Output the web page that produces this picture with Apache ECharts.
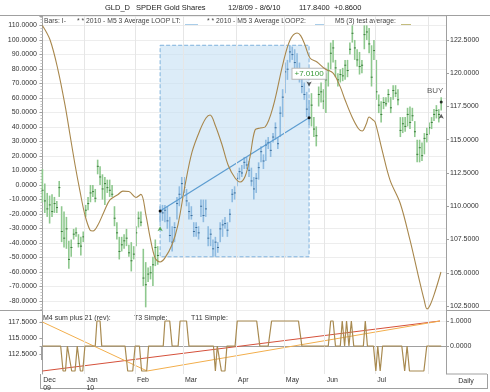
<!DOCTYPE html>
<html>
<head>
<meta charset="utf-8">
<script src="https://cdn.jsdelivr.net/npm/echarts@6/dist/echarts.min.js"></script>
<style>
  html, body { margin: 0; padding: 0; background: #fff; }
  #chart { width: 490px; height: 392px; }
</style>
</head>
<body>
<div id="chart"></div>
<script>
// month boundaries (bar index of first trading day shown in that month)
var monthStarts = [0, 18, 39, 59, 81, 101, 118, 139, 161]
var monthNames = ['Dec', 'Jan', 'Feb', 'Mar', 'Apr', 'May', 'Jun', 'Jul', '']
var yearNames = ['09', '10', '', '', '', '', '', '', '']

// GLD daily bars, 12/8/09 - 8/6/10
var barHigh = [
  112.8, 111.7, 111.0, 110.8, 110.9, 110.7, 110.4, 111.9, 110.0, 109.6,
  109.2, 107.4, 107.5, 108.3, 108.4, 107.9, 107.7, 108.1, 110.1, 110.7,
  111.6, 111.6, 111.3, 113.5, 113.0, 112.4, 112.2, 112.0, 112.0, 111.6,
  110.0, 108.8, 107.7, 107.7, 107.9, 108.3, 107.1, 107.3, 107.0, 108.5,
  109.6, 109.6, 106.8, 105.8, 105.4, 105.5, 106.2, 107.5, 107.0, 110.0,
  110.1, 110.1, 110.0, 109.2, 108.5, 108.8, 110.7, 111.5, 112.2, 112.2,
  111.3, 110.3, 110.0, 108.8, 108.8, 108.5, 110.5, 110.5, 110.5, 108.5,
  108.3, 107.5, 107.7, 107.3, 108.8, 109.0, 109.2, 108.8, 109.8, 111.3,
  111.5, 112.5, 112.9, 113.1, 113.7, 113.7, 113.4, 112.9, 112.2, 112.5,
  113.3, 114.5, 113.9, 115.0, 115.2, 114.8, 115.5, 116.3, 115.2, 117.5,
  118.8, 120.8, 121.0, 122.1, 122.0, 121.8, 121.5, 120.8, 119.7, 119.3,
  118.6, 118.0, 118.5, 116.7, 116.0, 119.0, 119.3, 118.8, 120.0, 120.8,
  122.3, 122.5, 121.0, 120.0, 120.3, 120.4, 121.0, 121.0, 122.3, 123.6,
  122.5, 121.8, 121.6, 121.0, 123.6, 123.6, 123.4, 122.1, 122.5, 121.0,
  118.4, 117.9, 118.2, 118.2, 118.8, 118.2, 119.1, 119.1, 118.8, 116.7,
  116.7, 116.7, 117.4, 117.5, 117.4, 116.4, 115.0, 115.0, 114.8, 115.5,
  115.9, 116.3, 116.7, 117.3, 117.6, 117.3, 118.2
]
var barLow = [
  110.3, 109.5, 109.2, 108.7, 109.2, 109.5, 109.5, 110.7, 107.3, 106.9,
  106.8, 105.3, 106.2, 107.5, 107.7, 106.9, 106.3, 107.3, 109.2, 109.7,
  110.3, 110.7, 110.3, 112.4, 111.6, 110.5, 110.1, 111.0, 110.7, 110.7,
  108.5, 107.5, 106.0, 106.6, 106.8, 107.0, 106.2, 105.1, 106.0, 107.0,
  108.4, 108.5, 104.0, 102.4, 104.3, 104.5, 104.0, 105.5, 105.6, 108.8,
  108.9, 108.8, 108.3, 107.3, 106.6, 107.3, 109.0, 110.0, 110.7, 111.0,
  110.0, 109.0, 109.0, 107.7, 107.7, 107.5, 109.2, 108.8, 109.2, 107.0,
  107.0, 106.2, 106.2, 106.5, 107.3, 107.7, 108.3, 107.7, 108.8, 110.3,
  110.5, 111.5, 112.0, 112.2, 112.8, 112.8, 112.2, 111.5, 110.5, 111.0,
  112.0, 113.3, 112.8, 113.4, 114.3, 113.7, 114.8, 115.0, 114.3, 115.2,
  116.7, 118.5, 119.5, 120.8, 121.0, 120.3, 119.7, 119.3, 118.5, 118.0,
  116.7, 116.1, 116.0, 115.2, 114.5, 117.5, 117.8, 117.3, 117.0, 119.0,
  120.3, 120.8, 119.7, 119.0, 119.3, 119.4, 119.5, 119.7, 121.4, 122.3,
  121.0, 120.5, 119.9, 120.0, 121.8, 122.5, 121.5, 119.0, 121.0, 118.0,
  117.0, 116.3, 117.3, 117.5, 117.8, 117.0, 118.0, 118.2, 117.6, 115.2,
  115.5, 115.6, 116.0, 115.8, 116.4, 115.2, 113.3, 113.3, 113.4, 113.9,
  114.8, 115.4, 115.8, 116.4, 116.6, 116.3, 117.2
]
var barClose = [
  111.2, 110.4, 109.8, 110.1, 109.6, 110.2, 109.9, 111.4, 108.1, 107.6,
  108.3, 106.0, 106.9, 107.9, 108.0, 107.2, 107.0, 107.7, 109.7, 110.2,
  111.0, 111.1, 110.6, 113.0, 112.2, 111.3, 111.7, 111.4, 111.2, 110.9,
  109.1, 108.0, 106.6, 107.1, 107.4, 107.6, 106.5, 105.9, 106.4, 108.0,
  109.1, 108.8, 104.6, 104.1, 104.9, 105.0, 105.6, 106.9, 106.3, 109.64,
  109.5, 109.7, 108.9, 107.8, 107.3, 108.4, 110.2, 110.9, 111.7, 111.4,
  110.4, 109.6, 109.3, 108.1, 108.4, 108.0, 110.0, 109.3, 109.8, 107.6,
  107.9, 106.8, 107.3, 106.9, 108.3, 108.6, 108.7, 108.2, 109.4, 110.9,
  111.0, 112.1, 112.6, 112.5, 113.3, 113.1, 112.7, 111.9, 111.3, 112.1,
  112.9, 114.1, 113.4, 114.6, 114.8, 114.2, 115.2, 115.9, 114.7, 117.0,
  118.2, 120.1, 120.3, 121.6, 121.4, 120.8, 120.1, 119.8, 119.0, 118.4,
  117.3, 116.65, 117.6, 115.8, 115.3, 118.4, 118.6, 117.9, 119.5, 120.2,
  121.5, 121.9, 120.4, 119.5, 119.9, 119.8, 120.6, 120.2, 121.8, 123.0,
  121.9, 121.0, 120.5, 120.6, 122.9, 123.1, 122.2, 119.7, 121.7, 118.6,
  117.6, 116.9, 117.8, 117.7, 118.4, 117.4, 118.7, 118.5, 118.0, 115.7,
  116.2, 116.0, 116.9, 116.3, 116.8, 115.6, 113.9, 114.4, 113.8, 115.1,
  115.4, 115.9, 116.3, 116.9, 117.2, 116.9, 117.84
]

// M5 (3) test average (left scale), read at bar positions
var oscX = [0, 3.2, 6.5, 9.4, 11.5, 13.6, 15.7, 17.7, 19.8, 21.1, 23.1, 25.6, 28.1, 31.5, 33.5, 36, 39, 41,
  43.1, 44.8, 46.9, 49, 51, 53.9, 56.4, 59.4, 62.3, 65.6, 68.1, 69.8, 71.9, 74.8, 77.3, 80.2, 82.3, 84.4,
  86.4, 88.5, 90.6, 92.7, 96, 100.2, 103.1, 106, 107.5, 109.3, 111.4, 114.3, 117.7, 121, 123.9, 126, 128.9,
  131.5, 133.1, 134.8, 136, 137.5, 138.5, 141.4, 144.7, 148.9, 153, 156.4, 158.9, 160.1, 161.4, 163.4, 165.9]
var oscY = [110, 100, 79.3, 55.2, 34.5, 13.8, -4.8, -20.7, -31, -31.7, -27.6, -18.6, -10.3, -6.5, -4.2, -4.5, -8.6, -6.5,
  -20.7, -35.9, -50.3, -53.1, -50.3, -41.4, -27.6, 0, 22.8, 37.9, 46.2, 48.3, 41.4, 27.6, 13.8, 4.8, 2.1, 6,
  19.3, 37.9, 39.3, 40, 53.8, 84.1, 100, 104.8, 103, 96.6, 87.6, 84.8, 80, 77.2, 68, 58.6, 46.9,
  39, 37.2, 42, 46.9, 45, 43.4, 24.1, 3.4, -12.4, -37.9, -62.1, -79.3, -85.5, -82.8, -73.8, -60]

// lower panel: M4 sum plus 21 (rev), T3 Simple, T11 Simple (right scale)
var m4X = [0, 7.6, 8.6, 9.6, 10.4, 11.2, 12.2, 13.6, 14.5, 15, 15.8, 16.8, 17.7, 22, 22.7, 24, 24.7, 34.4, 35.5,
  37.6, 38.6, 40.4, 41.3, 43.4, 44.2, 50.3, 51, 53, 54, 56.5, 57.3, 60, 61, 71.2, 72, 72.8, 73.6, 74.5, 76,
  76.8, 80.2, 81.1, 89.2, 90.5, 94, 95.4, 106.6, 108, 119, 120, 121, 122, 124, 124.8, 125.8, 126.6, 127.6,
  128.6, 129.6, 133.6, 134.4, 135.3, 137.8, 138.8, 139.6, 140.6, 141.6, 149.6, 150.8, 151.8, 152.8, 158.8, 160, 166]
var m4Y = [0, 0, -1, -1, 0, 0, -1, -1, 0, 0, -1, -1, 0, 0, 1, 1, 0, 0, -1,
  -1, 0, 0, -1, -1, 0, 0, 1, 1, 0, 0, 1, 1, 0, 0, -1, 0, 0, -1, -1,
  0, 0, 1, 1, 0, 0, 1, 1, 0, 0, 1, 1, 0, 0, 1, 0, 1, 0,
  1, 0, 0, 1, 0, 0, -1, 0, -1, 0, 0, -1, 0, -1, -1, 0, 0]
var t3X = [0, 165.5]
var t3Y = [-1, 1]
var t11X = [0, 43.6, 165.5]
var t11Y = [0.96, -1, 1]

// selection box / trend, signals
var boxStart = 49
var boxEnd = 111
var buyIndex = 166
var sigX = [49, 111, 166]
var sigY = [108.5, 119.0, 116.95]

var priceTicks = [102.5, 105, 107.5, 110, 112.5, 115, 117.5, 120, 122.5]
var lowerLeftTicks = [112.5, 115, 117.5]
var lowerRightTicks = [0, 1]

var font = 'Liberation Sans'
var gridColor = '#e6e6e6'
var frameColor = '#a0a0a0'

var monthTickVals = monthStarts.map(function (s) { return s - 0.5 })
var boxTop = Math.max.apply(null, barHigh.slice(boxStart, boxEnd + 1))
var boxBottom = Math.min.apply(null, barLow.slice(boxStart, boxEnd + 1))
var trendDiff = barClose[boxEnd] - barClose[boxStart]
var trendText = (trendDiff >= 0 ? '+' : '') + trendDiff.toFixed(4)

function pairs(xs, ys) {
  return xs.map(function (x, k) { return [x, ys[k]] })
}

function txt(x, y, s, size, color, align) {
  return {
    type: 'text', x: x, y: y, silent: true,
    style: { text: s, fill: color || '#333', fontSize: size, fontFamily: font, verticalAlign: 'middle', align: align || 'left' }
  }
}
function seg(x1, y1, x2, y2, color, w) {
  return { type: 'line', silent: true, shape: { x1: x1, y1: y1, x2: x2, y2: y2 }, style: { stroke: color, lineWidth: w || 1 } }
}

var chart = echarts.init(document.getElementById('chart'))

chart.setOption({
  animation: false,
  textStyle: { fontFamily: font },
  grid: [
    { left: 40, right: 44, top: 16, height: 294 },
    { left: 40, right: 44, top: 311, height: 63 }
  ],
  xAxis: [
    {
      gridIndex: 0, type: 'value', min: -1, max: 168,
      axisLine: { show: false }, axisTick: { show: false }, axisLabel: { show: false }, splitLine: { show: false }
    },
    {
      gridIndex: 1, type: 'value', min: -1, max: 168,
      axisLine: { show: true, lineStyle: { color: frameColor } },
      axisTick: { show: true, customValues: monthTickVals, length: 14, lineStyle: { color: frameColor } },
      axisLabel: {
        customValues: monthTickVals,
        fontSize: 7, color: '#333', margin: 2, align: 'left', padding: [0, 0, 0, 2], lineHeight: 8,
        formatter: function (v) {
          var k = monthStarts.indexOf(v + 0.5)
          if (k < 0) return ''
          return yearNames[k] ? monthNames[k] + '\n' + yearNames[k] : monthNames[k]
        }
      },
      splitLine: { show: false }
    }
  ],
  yAxis: [
    {
      gridIndex: 0, type: 'value', position: 'left', min: -86.21, max: 116.55, splitNumber: 20,
      axisLine: { show: true, lineStyle: { color: frameColor } },
      axisTick: { show: true, length: 3, lineStyle: { color: frameColor } },
      minorTick: { show: true, splitNumber: 5, length: 2, lineStyle: { color: '#c4c4c4' } },
      axisLabel: {
        fontSize: 7, color: '#333', margin: 3, showMinLabel: false, showMaxLabel: false,
        formatter: function (v) { return v.toFixed(4) }
      },
      splitLine: { show: true, lineStyle: { color: '#ededed' } }
    },
    {
      gridIndex: 0, type: 'value', position: 'right', min: 102.2, max: 124.3,
      axisLine: { show: true, lineStyle: { color: frameColor } },
      axisTick: { show: true, customValues: priceTicks, length: 3, lineStyle: { color: frameColor } },
      axisLabel: {
        customValues: priceTicks, fontSize: 7, color: '#333', margin: 4,
        formatter: function (v) { return v.toFixed(4) }
      },
      splitLine: { show: false }
    },
    {
      gridIndex: 1, type: 'value', position: 'left', min: 109.375, max: 119.22,
      axisLine: { show: true, lineStyle: { color: frameColor } },
      axisTick: { show: true, customValues: lowerLeftTicks, length: 3, lineStyle: { color: frameColor } },
      axisLabel: {
        customValues: lowerLeftTicks, fontSize: 7, color: '#333', margin: 3,
        formatter: function (v) { return v.toFixed(4) }
      },
      splitLine: { show: false }
    },
    {
      gridIndex: 1, type: 'value', position: 'right', min: -1.12, max: 1.4, splitNumber: 5,
      axisLine: { show: true, lineStyle: { color: frameColor } },
      axisTick: { show: true, customValues: lowerRightTicks, length: 3, lineStyle: { color: frameColor } },
      axisLabel: {
        customValues: lowerRightTicks, fontSize: 7, color: '#333', margin: 4,
        formatter: function (v) { return v.toFixed(4) }
      },
      splitLine: { show: true, lineStyle: { color: '#f0f0f0' } }
    }
  ],
  series: [
    {
      name: 'monthLinesTop', type: 'line', xAxisIndex: 0, yAxisIndex: 0, data: [], silent: true, z: 1,
      markLine: {
        silent: true, symbol: ['none', 'none'], label: { show: false },
        lineStyle: { color: gridColor, type: 'solid', width: 1 },
        data: monthTickVals.slice(1).map(function (v) { return { xAxis: v } })
      }
    },
    {
      name: 'monthLinesLow', type: 'line', xAxisIndex: 1, yAxisIndex: 3, data: [], silent: true, z: 1,
      markLine: {
        silent: true, symbol: ['none', 'none'], label: { show: false },
        lineStyle: { color: gridColor, type: 'solid', width: 1 },
        data: monthTickVals.slice(1).map(function (v) { return { xAxis: v } })
      }
    },
    {
      name: 'box', type: 'line', xAxisIndex: 0, yAxisIndex: 1, data: [], silent: true, z: 2,
      markArea: {
        silent: true,
        itemStyle: { color: 'rgba(196,224,244,0.6)', borderColor: '#7fb2dc', borderWidth: 1, borderType: 'dashed' },
        data: [[{ coord: [boxStart, boxTop] }, { coord: [boxEnd, boxBottom] }]]
      }
    },
    {
      name: 'Bars', type: 'custom', xAxisIndex: 0, yAxisIndex: 1, z: 3, silent: true,
      data: barHigh.map(function (h, i) { return [i, barLow[i], h, barClose[i]] }),
      encode: { x: 0, y: [1, 2, 3] },
      renderItem: function (params, api) {
        var i = api.value(0)
        var lo = api.coord([i, api.value(1)])
        var hi = api.coord([i, api.value(2)])
        var cl = api.coord([i, api.value(3)])
        var inBox = i >= boxStart && i <= boxEnd
        return {
          type: 'group',
          children: [
            { type: 'line', shape: { x1: hi[0], y1: hi[1], x2: lo[0], y2: lo[1] },
              style: { stroke: inBox ? '#8fbbe0' : '#8ec88e', lineWidth: 1.6 } },
            { type: 'line', shape: { x1: cl[0] - 0.8, y1: cl[1], x2: cl[0] + 1.2, y2: cl[1] },
              style: { stroke: inBox ? '#3d6f9c' : '#3c7d3c', lineWidth: 1 } }
          ]
        }
      }
    },
    {
      name: 'trend', type: 'line', xAxisIndex: 0, yAxisIndex: 1, z: 4, silent: true,
      data: [[boxStart, barClose[boxStart]], [boxEnd, barClose[boxEnd]]],
      lineStyle: { color: '#5c9cd0', width: 1.2 },
      symbol: 'circle', symbolSize: 3, itemStyle: { color: '#111' },
      markPoint: {
        silent: true, symbol: 'rect', symbolSize: 0,
        label: {
          show: true, formatter: trendText, offset: [0, -44],
          color: '#3a9a3a', fontSize: 8, backgroundColor: '#fff', borderColor: '#b8b8b8', borderWidth: 1, padding: [1, 2]
        },
        data: [{ coord: [boxEnd, barClose[boxEnd]] }]
      }
    },
    {
      name: 'M5 (3) test average', type: 'line', xAxisIndex: 0, yAxisIndex: 0, z: 5, silent: true,
      data: pairs(oscX, oscY), smooth: 0.35, symbol: 'none',
      lineStyle: { color: '#a8874c', width: 1.1 }
    },
    {
      name: 'signals', type: 'scatter', xAxisIndex: 0, yAxisIndex: 1, z: 6, silent: true,
      data: pairs(sigX, sigY).map(function (p, k) {
        return {
          value: p, symbol: 'arrow', symbolSize: [4, 5], symbolRotate: k === 1 ? 180 : 0,
          itemStyle: { color: k === 0 ? '#3a9a3a' : '#333' }
        }
      })
    },
    {
      name: 'lastClose', type: 'scatter', xAxisIndex: 0, yAxisIndex: 1, z: 6, silent: true,
      data: [[buyIndex, barClose[buyIndex]]], symbolSize: 3, itemStyle: { color: '#111' }
    },
    {
      name: 'buy', type: 'scatter', xAxisIndex: 0, yAxisIndex: 1, z: 6, silent: true,
      data: [[buyIndex, barHigh[buyIndex]]], symbolSize: 0,
      label: { show: true, formatter: 'BUY', position: 'top', distance: 2, offset: [-6, 0], fontSize: 8, color: '#333' }
    },
    {
      name: 'T3 Simple', type: 'line', xAxisIndex: 1, yAxisIndex: 3, z: 4, silent: true,
      data: pairs(t3X, t3Y), symbol: 'none', lineStyle: { color: '#d5503a', width: 1 }
    },
    {
      name: 'T11 Simple', type: 'line', xAxisIndex: 1, yAxisIndex: 3, z: 4, silent: true,
      data: pairs(t11X, t11Y), symbol: 'none', lineStyle: { color: '#f2ae4c', width: 1 }
    },
    {
      name: 'M4 sum plus 21 (rev)', type: 'line', xAxisIndex: 1, yAxisIndex: 3, z: 5, silent: true,
      data: pairs(m4X, m4Y), symbol: 'none', lineStyle: { color: '#a88a50', width: 1.2 }
    }
  ],
  graphic: [
    // frame
    seg(0, 15.5, 490, 15.5, frameColor),
    seg(0, 310.5, 490, 310.5, frameColor),
    seg(40, 388.5, 487, 388.5, frameColor),
    seg(446.5, 374, 487, 374, frameColor),
    seg(487.5, 374, 487.5, 389, frameColor),
    seg(40.5, 374, 40.5, 389, frameColor),
    // title
    txt(105, 8, 'GLD_D', 7.5, '#222'),
    txt(136, 8, 'SPDER Gold Shares', 7.5, '#222'),
    txt(228, 8, '12/8/09 - 8/6/10', 7.5, '#222'),
    txt(299, 8, '117.8400', 7.5, '#222'),
    txt(334, 8, '+0.8600', 7.5, '#222'),
    // main legend
    txt(44, 21, 'Bars: I-', 6.8, '#444'),
    txt(77, 21, '* * 2010 - M5 3 Average LOOP LT:', 6.8, '#444'),
    seg(185, 24.5, 198, 24.5, '#a9cde9'),
    txt(207, 21, '* * 2010 - M5 3 Average LOOP2:', 6.8, '#444'),
    seg(315, 24.5, 325, 24.5, '#a9cde9'),
    txt(335, 21, 'M5 (3) test average:', 6.8, '#444'),
    seg(401, 24.5, 411, 24.5, '#c4bd7e'),
    // lower legend
    txt(43, 318, 'M4 sum plus 21 (rev):', 7, '#333'),
    seg(113, 321.5, 123, 321.5, '#c7a470'),
    txt(134, 318, 'T3 Simple:', 7, '#333'),
    seg(168, 321.5, 180, 321.5, '#e07d6c'),
    txt(191, 318, 'T11 Simple:', 7, '#333'),
    seg(228, 321.5, 240, 321.5, '#f5c27d'),
    // period
    txt(466, 381, 'Daily', 7, '#333', 'center')
  ]
})
</script>
</body>
</html>
